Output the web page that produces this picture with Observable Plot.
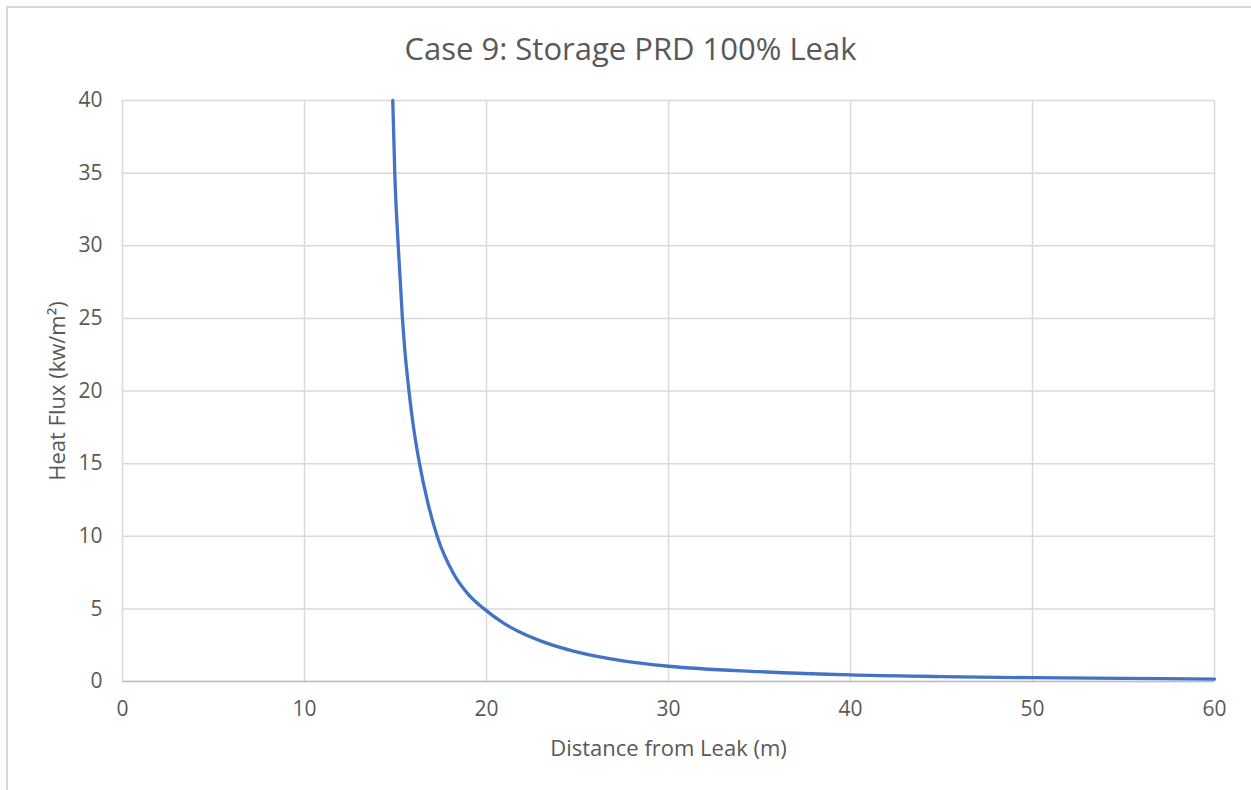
<!DOCTYPE html>
<html>
<head>
<meta charset="utf-8">
<script src="https://cdn.jsdelivr.net/npm/d3@7"></script>
<script src="https://cdn.jsdelivr.net/npm/@observablehq/plot@0.6"></script>
<style>
  body { margin: 0; background: #fff; }
  #wrap { position: relative; width: 1251px; height: 790px; background: #fff; font-family: "Open Sans", "Noto Sans", sans-serif; }
  #frame { position: absolute; left: 6px; top: 6px; right: 0; bottom: 0; border-top: 2px solid #d9d9d9; border-left: 2px solid #d9d9d9; pointer-events: none; }
  #title { height: 80px; box-sizing: border-box; padding-top: 27px; text-align: center; font-size: 31px; color: #595959; line-height: 42px; padding-left: 10px; }
  svg { display: block; }
</style>
</head>
<body>
<div id="wrap">
  <div id="frame"></div>
  <div id="title">Case 9: Storage PRD 100% Leak</div>
  <div id="chart"></div>
</div>
<script>
const distance = [14.85, 14.96, 15.15, 15.38, 15.50, 15.74, 15.99, 16.32, 16.74, 17.29, 18.2, 19.0, 19.87, 21, 22, 23, 25, 27.5, 30, 35, 40, 45, 50, 55, 60];
const heatFlux = [40, 35, 30, 25, 23, 20, 17.5, 15, 12.5, 10, 7.4, 6.0, 5.0, 3.97, 3.30, 2.78, 2.02, 1.42, 1.05, 0.68, 0.45, 0.34, 0.26, 0.21, 0.17];
const xTicks = [0, 10, 20, 30, 40, 50, 60];
const yTicks = [0, 5, 10, 15, 20, 25, 30, 35, 40];
const xLabel = "Distance from Leak (m)";
const yLabel = "Heat Flux (kw/m²)";

const data = distance.map((d, i) => ({x: d, y: heatFlux[i]}));

const chart = Plot.plot({
  width: 1251,
  height: 710,
  marginTop: 20,
  marginLeft: 122,
  marginRight: 37,
  marginBottom: 109,
  style: {fontFamily: "'Open Sans', 'Noto Sans', sans-serif", fontSize: "21px", color: "#595959", background: "#fff"},
  x: {domain: [0, 60]},
  y: {domain: [0, 40]},
  marks: [
    Plot.gridX(xTicks, {stroke: "#d9d9d9", strokeOpacity: 1, strokeWidth: 1.5}),
    Plot.gridY(yTicks, {stroke: "#d9d9d9", strokeOpacity: 1, strokeWidth: 1.5}),
    Plot.ruleY([0], {stroke: "#bfbfbf", strokeWidth: 1.5}),
    Plot.axisX(xTicks, {tickSize: 0, tickPadding: 20, fontSize: 21, label: null}),
    Plot.axisY(yTicks, {tickSize: 0, tickPadding: 20, fontSize: 21, label: null}),
    Plot.text([xLabel], {frameAnchor: "bottom", text: d => d, dy: 67, lineAnchor: "middle", textAnchor: "middle", fontSize: 22, fill: "#595959"}),
    Plot.text([yLabel], {frameAnchor: "left", text: d => d, dx: -65, rotate: -90, lineAnchor: "middle", textAnchor: "middle", fontSize: 22, fill: "#595959"}),
    Plot.line(data, {x: "x", y: "y", stroke: "#4472C4", strokeWidth: 3.3, curve: "monotone-x"})
  ]
});
document.getElementById("chart").appendChild(chart);
</script>
</body>
</html>
